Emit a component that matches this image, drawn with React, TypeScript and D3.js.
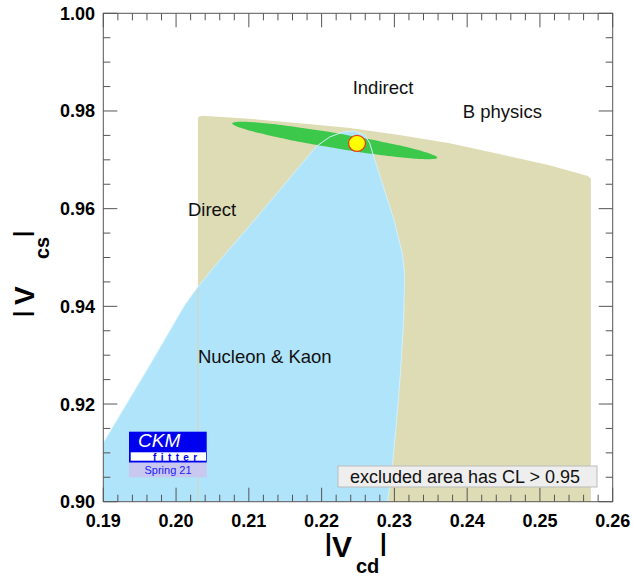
import React from "react";
import * as d3 from "d3";

// ---------- data ----------
const xDomain = [0.19, 0.26];
const yDomain = [0.9, 1.0];

// "Direct" constraint region (tan) boundary [|Vcd|, |Vcs|]
const directRegion: [number, number][] = [
  [0.2030, 0.9000], [0.2030, 0.9783], [0.2031, 0.9788], [0.2036, 0.9790],
  [0.2101, 0.9784], [0.2170, 0.9775], [0.2239, 0.9765], [0.2307, 0.9751],
  [0.2376, 0.9734], [0.2444, 0.9712], [0.2513, 0.9689], [0.2566, 0.9667],
  [0.2570, 0.9662], [0.2570, 0.9000],
];

// "Nucleon & Kaon" region (blue) boundary
const nucleonKaonRegion: [number, number][] = [
  [0.1900, 0.9000], [0.1900, 0.9120], [0.19641, 0.92797], [0.20121, 0.94026],
  [0.2030, 0.94395], [0.20533, 0.94825], [0.20972, 0.95582], [0.21425, 0.96381],
  [0.2170, 0.96873], [0.21933, 0.97282], [0.22111, 0.97467], [0.2229, 0.97569],
  [0.22455, 0.97589], [0.22592, 0.97508], [0.2266, 0.97344], [0.22702, 0.97139],
  [0.22798, 0.96688], [0.22894, 0.96238], [0.23003, 0.95726], [0.23113, 0.9505],
  [0.23141, 0.9464], [0.23127, 0.93719], [0.23086, 0.92695], [0.23031, 0.91671],
  [0.22976, 0.9079], [0.22908, 0.9000],
];

// "Indirect / B physics" region (green ellipse): centre and semi-axis ends
const indirectCentre: [number, number] = [0.2218, 0.97395];
const indirectMajorEnd: [number, number] = [0.23588, 0.97043];
const indirectMinorEnd: [number, number] = [0.22164, 0.97243];

// global fit point
const fitPoint: [number, number] = [0.22486, 0.97338];

const regionLabels = [
  { text: "Indirect", x: 0.22427, y: 0.9835 },
  { text: "B physics", x: 0.2394, y: 0.9785 },
  { text: "Direct", x: 0.20163, y: 0.9585 },
  { text: "Nucleon & Kaon", x: 0.2030, y: 0.9284 },
];

const legendText = "excluded area has CL > 0.95";

// ---------- layout ----------
const W = 633;
const H = 576;
const plot = { left: 103.3, right: 612.7, top: 13.3, bottom: 501.7 };
const FONT = "'Liberation Sans', Arial, Helvetica, sans-serif";

const colors = {
  tan: "#dedcb4",
  blue: "#b0e4fa",
  blueEdge: "#d2f0fc",
  green: "#3cc84a",
  yellow: "#ffff00",
  red: "#e8401c",
  axis: "#555555",
};

export default function App() {
  const x = d3.scaleLinear().domain(xDomain).range([plot.left, plot.right]);
  const y = d3.scaleLinear().domain(yDomain).range([plot.bottom, plot.top]);

  const line = d3
    .line<[number, number]>()
    .x((d) => x(d[0]))
    .y((d) => y(d[1]));
  const smooth = d3
    .line<[number, number]>()
    .x((d) => x(d[0]))
    .y((d) => y(d[1]))
    .curve(d3.curveCatmullRomClosed);

  // ellipse from centre + axis ends, mapped via scales
  const ellPts: [number, number][] = d3.range(0, 360, 4).map((deg) => {
    const t = (deg * Math.PI) / 180;
    const c = Math.cos(t);
    const s = Math.sin(t);
    return [
      indirectCentre[0] + c * (indirectMajorEnd[0] - indirectCentre[0]) + s * (indirectMinorEnd[0] - indirectCentre[0]),
      indirectCentre[1] + c * (indirectMajorEnd[1] - indirectCentre[1]) + s * (indirectMinorEnd[1] - indirectCentre[1]),
    ];
  });

  const xMajor = d3.range(0, 8).map((i) => xDomain[0] + i * 0.01);
  const xMinor = d3.range(0, 36).map((i) => xDomain[0] + i * 0.002);
  const yMajor = d3.range(0, 6).map((i) => yDomain[0] + i * 0.02);
  const yMinor = d3.range(0, 21).map((i) => yDomain[0] + i * 0.005);

  const isMajorX = (v: number) => xMajor.some((m) => Math.abs(m - v) < 1e-6);
  const isMajorY = (v: number) => yMajor.some((m) => Math.abs(m - v) < 1e-6);

  return (
    <svg
      width={W}
      height={H}
      style={{ position: "absolute", left: 0, top: 0, background: "#fff" }}
      fontFamily={FONT}
    >
      <rect x={0} y={0} width={W} height={H} fill="#fff" />
      <defs>
        <clipPath id="plotclip">
          <rect x={plot.left} y={plot.top} width={plot.right - plot.left} height={plot.bottom - plot.top} />
        </clipPath>
      </defs>
      <g clipPath="url(#plotclip)">
        <path d={line(directRegion) + "Z"} fill={colors.tan} />
        <path d={line(nucleonKaonRegion) + "Z"} fill={colors.blue} />
        <line
          x1={x(directRegion[0][0])}
          x2={x(directRegion[0][0])}
          y1={y(0.9)}
          y2={y(0.944)}
          stroke="#d6d6b0"
          strokeWidth={1}
        />
        <path d={smooth(ellPts) || ""} fill={colors.green} />
        <path d={line(nucleonKaonRegion) || ""} fill="none" stroke={colors.blueEdge} strokeWidth={1} />
        <ellipse cx={x(fitPoint[0])} cy={y(fitPoint[1])} rx={8.5} ry={8} fill={colors.yellow} stroke={colors.red} strokeWidth={1.3} />
      </g>

      {/* region labels */}
      {regionLabels.map((l) => (
        <text key={l.text} x={x(l.x)} y={y(l.y)} fontSize={18.5} fill="#111">
          {l.text}
        </text>
      ))}

      {/* frame */}
      <rect
        x={plot.left}
        y={plot.top}
        width={plot.right - plot.left}
        height={plot.bottom - plot.top}
        fill="none"
        stroke={colors.axis}
        strokeWidth={1}
      />
      {/* ticks */}
      {xMinor.map((v, i) => {
        const len = isMajorX(v) ? 14 : 7;
        return (
          <g key={"xt" + i} stroke={colors.axis} strokeWidth={1}>
            <line x1={x(v)} x2={x(v)} y1={plot.bottom} y2={plot.bottom - len} />
            <line x1={x(v)} x2={x(v)} y1={plot.top} y2={plot.top + len} />
          </g>
        );
      })}
      {yMinor.map((v, i) => {
        const len = isMajorY(v) ? 14 : 7;
        return (
          <g key={"yt" + i} stroke={colors.axis} strokeWidth={1}>
            <line x1={plot.left} x2={plot.left + len} y1={y(v)} y2={y(v)} />
            <line x1={plot.right} x2={plot.right - len} y1={y(v)} y2={y(v)} />
          </g>
        );
      })}
      {xMajor.map((v) => (
        <text key={"xl" + v} x={x(v)} y={plot.bottom + 24.8} fontSize={18} fontWeight="bold" textAnchor="middle" fill="#000">
          {v.toFixed(2)}
        </text>
      ))}
      {yMajor.map((v) => (
        <text key={"yl" + v} x={95} y={y(v) + 6.5} fontSize={18} fontWeight="bold" textAnchor="end" fill="#000">
          {v.toFixed(2)}
        </text>
      ))}

      {/* x title */}
      <g fontWeight="bold" fill="#000">
        <text x={325} y={551} fontSize={24}>|</text>
        <text x={332} y={557} fontSize={30}>V</text>
        <text x={356} y={573} fontSize={20}>cd</text>
        <text x={380} y={551} fontSize={24}>|</text>
      </g>
      {/* y title */}
      <g fontWeight="bold" fill="#000">
        <text transform="translate(29,317) rotate(-90)" fontSize={22}>|</text>
        <text transform="translate(34,305) rotate(-90)" fontSize={28}>V</text>
        <text transform="translate(49,259) rotate(-90)" fontSize={20}>cs</text>
        <text transform="translate(29,237) rotate(-90)" fontSize={22}>|</text>
      </g>

      {/* CKMfitter logo */}
      <g>
        <rect x={129} y={431.7} width={77.7} height={31} fill="#0000f0" />
        <rect x={130.7} y={452.3} width={75.3} height={8.4} fill="#ffffff" />
        <text x={138} y={447} fontSize={19} fontStyle="italic" fill="#ffffff">CKM</text>
        <text x={153} y={460.5} fontSize={10} fontWeight="bold" fill="#0000f0" letterSpacing={4.4}>fitter</text>
        <rect x={129} y={462.7} width={77.7} height={14.6} fill="#c8c8f0" />
        <text x={168} y={474} fontSize={11} textAnchor="middle" fill="#2020ff">Spring 21</text>
      </g>

      {/* legend */}
      <rect x={338} y={466} width={259} height={21} fill="#eeeeee" stroke="#bbbbbb" strokeWidth={1} />
      <text x={350} y={482.5} fontSize={18} fill="#111">{legendText}</text>
    </svg>
  );
}
